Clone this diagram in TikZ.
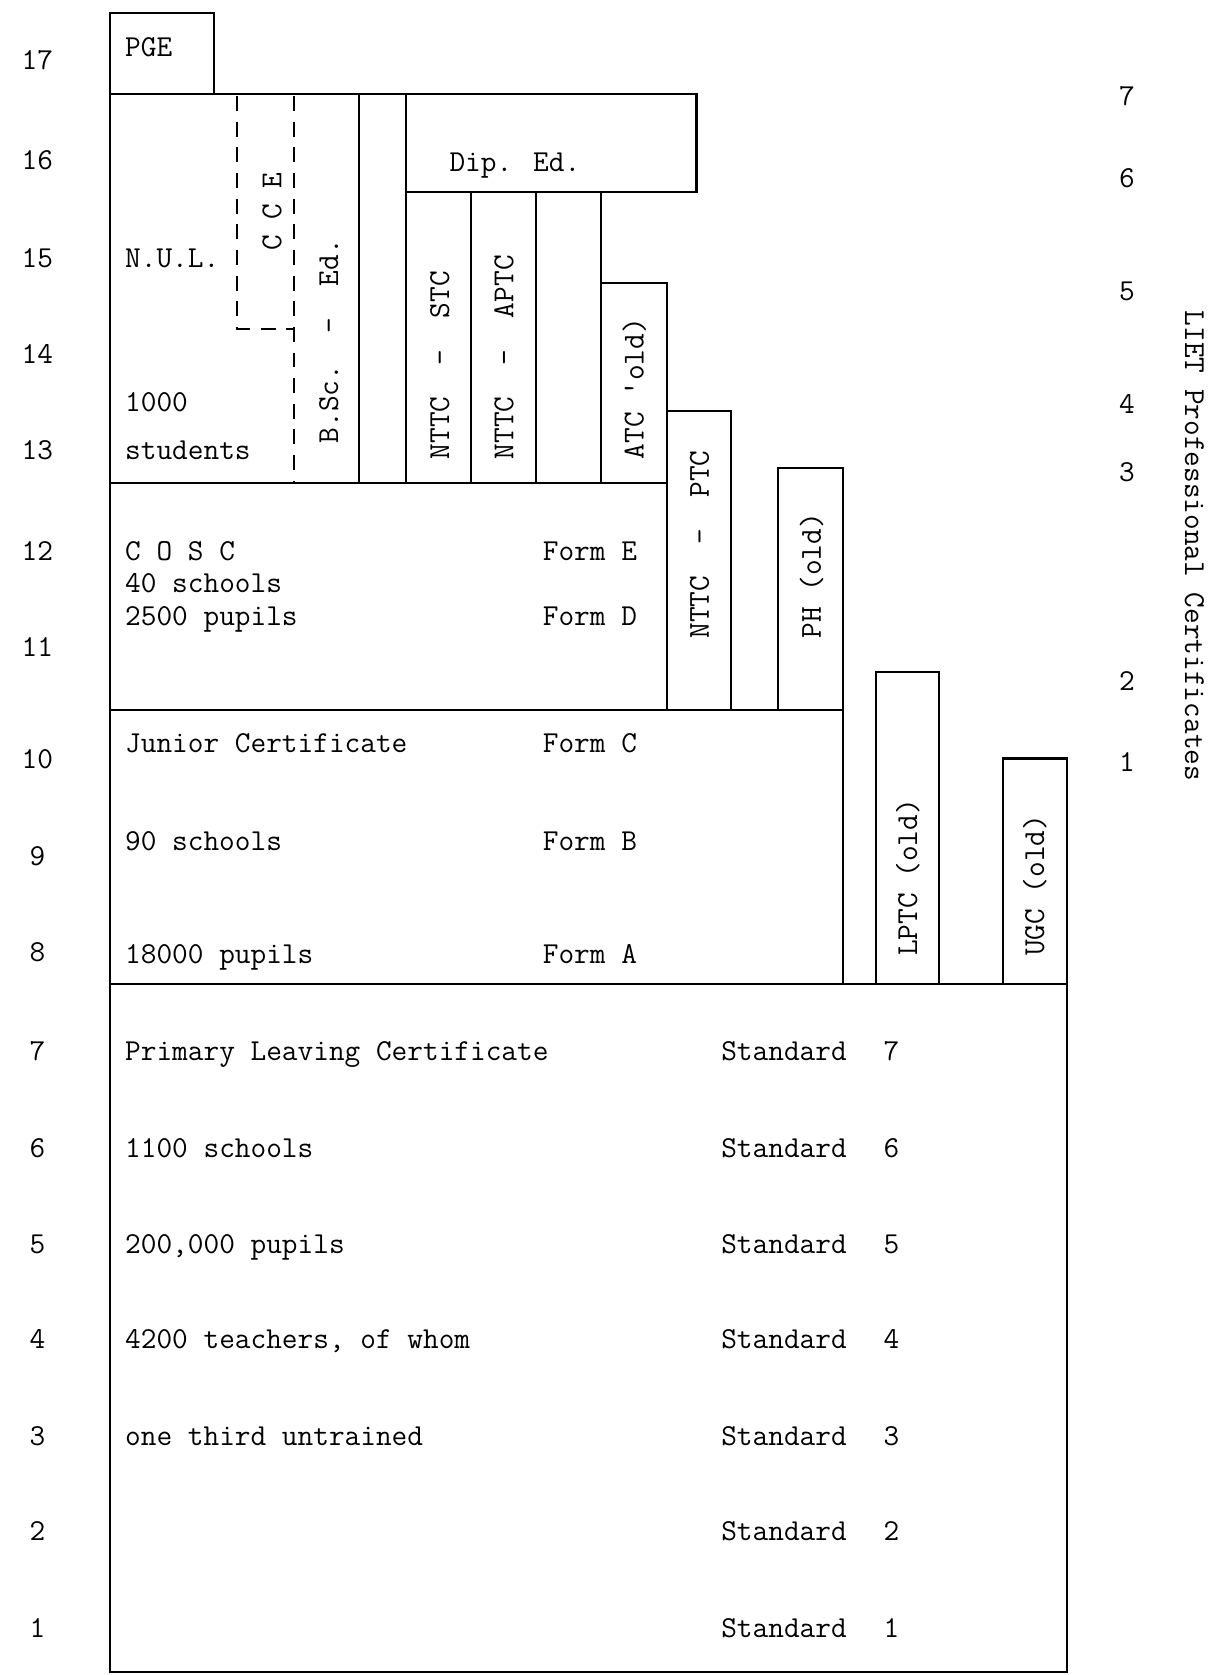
\documentclass[tikz,border=0pt]{standalone}
\usepackage{fontspec}
\newfontfamily\tw{Latin Modern Mono}
\begin{document}
\begin{tikzpicture}[x=1pt,y=-1pt,
  every node/.style={inner sep=0pt, font=\tw\fontsize{28.5}{28.5}\selectfont, text height=17pt, text depth=0pt},
  lbl/.style={anchor=west},
  num/.style={anchor=center},
  up/.style={rotate=90, anchor=west},
  ln/.style={line width=2pt, line cap=rect},
  dl/.style={line width=2pt, dash pattern=on 14pt off 10pt}]
\useasboundingbox (0,0) rectangle (1132,1568);
% outline and boxes
\draw[ln] (103,1565) -- (103,12) -- (200,12) -- (200,88);
\draw[ln] (103,88) -- (652,88) -- (652,180) -- (380,180);
\draw[ln] (336,88) -- (336,452);
\draw[ln] (380,88) -- (380,452);
\draw[ln] (441,180) -- (441,452);
\draw[ln] (502,180) -- (502,452);
\draw[ln] (563,180) -- (563,452);
\draw[ln] (563,265) -- (624,265) -- (624,665);
\draw[ln] (103,452) -- (624,452);
\draw[ln] (624,385) -- (684,385) -- (684,665);
\draw[ln] (728,665) -- (728,438) -- (789,438) -- (789,921);
\draw[ln] (103,665) -- (789,665);
\draw[ln] (820,921) -- (820,629) -- (879,629) -- (879,921);
\draw[ln] (939,921) -- (939,710) -- (999,710) -- (999,1565) -- (103,1565);
\draw[ln] (103,921) -- (999,921);
\draw[dl] (222,90) -- (222,308) -- (275,308);
\draw[dl] (275,90) -- (275,452);
% texts
\node[lbl] (pge) at (117,44) {PGE};
\node[lbl] (nul) at (117,242) {N.U.L.};
\node[lbl] (thou) at (117,377) {1000};
\node[lbl] (stud) at (117,422) {students};
\node[num] (diped) at (482,152) {Dip. Ed.};
\node[lbl] (cosc) at (117,516) {C O S C};
\node[lbl] (forty) at (117,546) {40 schools};
\node[lbl] (p2500) at (117,577) {2500 pupils};
\node[lbl] (fE) at (508,516) {Form E};
\node[lbl] (fD) at (508,577) {Form D};
\node[lbl] (jc) at (117,696) {Junior Certificate};
\node[lbl] (fC) at (508,696) {Form C};
\node[lbl] (s90) at (117,788) {90 schools};
\node[lbl] (fB) at (508,788) {Form B};
\node[lbl] (p18) at (117,893) {18000 pupils};
\node[lbl] (fA) at (508,893) {Form A};
\node[lbl] (plc) at (117,984) {Primary Leaving Certificate};
\node[lbl] (s1100) at (117,1075) {1100 schools};
\node[lbl] (p200) at (117,1165) {200,000 pupils};
\node[lbl] (t4200) at (117,1254) {4200 teachers, of whom};
\node[lbl] (third) at (117,1345) {one third untrained};
\foreach \n/\y in {7/984,6/1075,5/1165,4/1254,3/1345,2/1434,1/1524}{
  \node[lbl] (std\n) at (675,\y) {Standard};
  \node[lbl] (stdn\n) at (827,\y) {\n};
}
% rotated labels
\node[up] (cce) at (255,235) {C C E};
\node[up] (bsc) at (308,415) {B.Sc.\ \ -\ \ Ed.};
\node[up] (stc) at (412,430) {NTTC\ \ -\ \ STC};
\node[up] (aptc) at (472,430) {NTTC\ \ -\ \ APTC};
\node[up] (atc) at (594,430) {ATC 'old)};
\node[up] (ptc) at (655,598) {NTTC\ \ -\ \ PTC};
\node[up] (ph) at (760,598) {PH (old)};
\node[up] (lptc) at (850,895) {LPTC (old)};
\node[up] (ugc) at (969,895) {UGC (old)};
% left scale
\foreach \n/\y in {17/57,16/150,15/242,14/332,13/422,12/516,11/606,10/711,9/802,8/892,7/984,6/1075,5/1165,4/1254,3/1345,2/1434,1/1524}{
  \node[num] (row\n) at (35,\y) {\n};
}
% right scale
\foreach \n/\y in {7/90,6/167,5/273,4/379,3/442,2/638,1/714}{
  \node[num] (liet\n) at (1055,\y) {\n};
}
\node[rotate=-90, anchor=center] (liet) at (1118,511) {LIET Professional Certificates};
\end{tikzpicture}
\end{document}
